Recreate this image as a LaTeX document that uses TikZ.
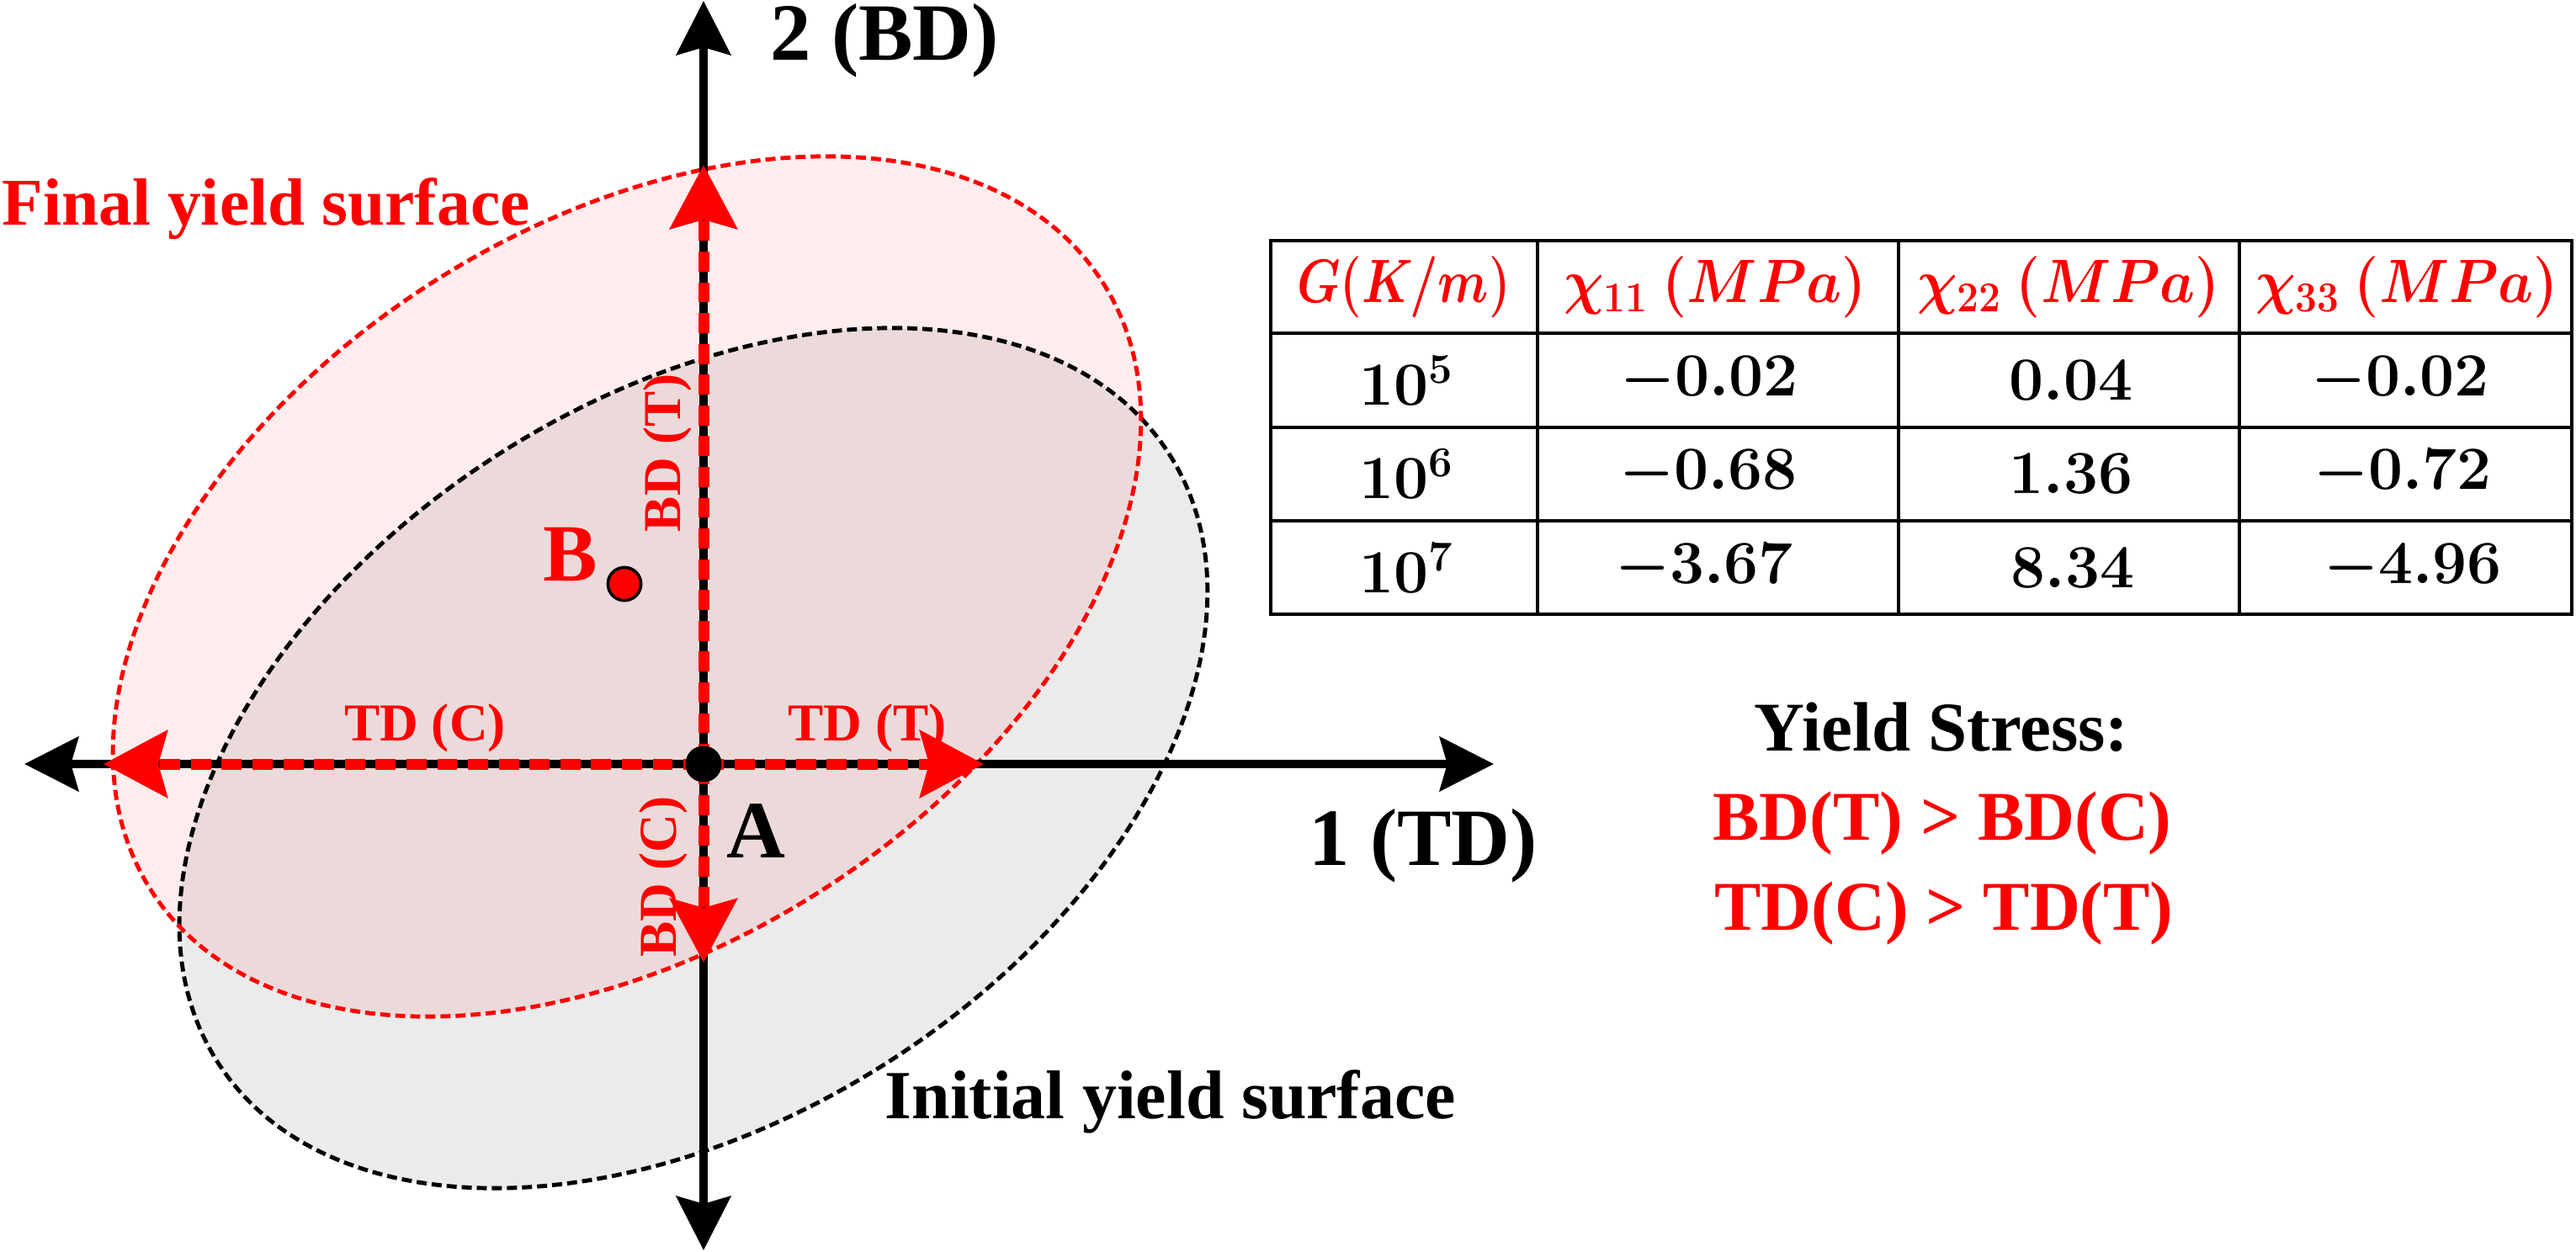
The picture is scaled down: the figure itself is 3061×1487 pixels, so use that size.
\documentclass[tikz,border=0pt]{standalone}
\usepackage[no-math]{fontspec}
\setmainfont{Liberation Serif}
\usetikzlibrary{arrows.meta}
\tikzset{
  ysurf/.style={line width=1.4pt, dash pattern=on 3.4pt off 1.7pt},
  axisline/.style={line width=3pt, black, {Stealth[length=18.2pt,width=18.2pt,inset=2.5pt]}-{Stealth[length=18.2pt,width=18.2pt,inset=2.5pt]}},
  redarrow/.style={line width=3.7pt, red, dash pattern=on 6.8pt off 3.6pt, -{Stealth[length=21.5pt,width=22.5pt,inset=3pt]}},
  biglbl/.style={inner sep=0pt, font=\fontsize{27.5}{30}\selectfont\bfseries},
  surflbl/.style={inner sep=0pt, font=\fontsize{22.6}{26}\selectfont\bfseries},
  dirlbl/.style={inner sep=0pt, text=red, font=\fontsize{18}{20}\selectfont\bfseries},
  yslbl/.style={inner sep=0pt, font=\fontsize{23.6}{26}\selectfont\bfseries},
  hdr/.style={inner sep=0pt, text=red, font=\fontsize{21}{24}\selectfont\boldmath},
  cell/.style={inner sep=0pt, font=\fontsize{21.5}{24}\selectfont\boldmath},
  tbl/.style={line width=1.3pt, black}
}
\begin{document}
\begin{tikzpicture}[x=0.01cm,y=-0.01cm]
\useasboundingbox (0,0) rectangle (3061,1487);

% yield surfaces
\coordinate (ci) at (824,901);
\coordinate (cf) at (745,697);
\fill[black!8, rotate around={32.6:(ci)}] (ci) ellipse [x radius=671, y radius=429];
\fill[red, opacity=0.07, rotate around={32.6:(cf)}] (cf) ellipse [x radius=671, y radius=429];
\draw[ysurf, black, rotate around={32.6:(ci)}] (ci) ellipse [x radius=671, y radius=429];
\draw[ysurf, red, rotate around={32.6:(cf)}] (cf) ellipse [x radius=671, y radius=429];

% axes
\coordinate (ytop) at (836,1);
\coordinate (ybot) at (836,1486);
\coordinate (xl) at (29,908);
\coordinate (xr) at (1775,908);
\draw[axisline] (ybot) -- (ytop);
\draw[axisline] (xl) -- (xr);

% red arrows
\node[circle, fill=black, inner sep=0pt, minimum size=12.2pt] (A) at (836,908) {};
\coordinate (rt) at (836,196);
\coordinate (rb) at (836,1144);
\coordinate (rl) at (123,908);
\coordinate (rr) at (1169,908);
\draw[redarrow] (A.center) -- (rt);
\draw[redarrow] (A.center) -- (rb);
\draw[redarrow] (A.center) -- (rl);
\draw[redarrow] (A.center) -- (rr);
\node[circle, fill=black, inner sep=0pt, minimum size=12.2pt] (Adot) at (836,908) {};

% point B
\node[circle, fill=red, draw=black, line width=1pt, inner sep=0pt, minimum size=11.2pt] (Bdot) at (742,694) {};

% labels
\node[biglbl, anchor=base west] (lbd) at (915,71) {2 (BD)};
\node[biglbl, anchor=base west] (ltd) at (1555,1028) {1 (TD)};
\node[biglbl, anchor=base west] (lA) at (863,1019) {A};
\node[biglbl, anchor=base west, text=red] (lB) at (645,690) {B};
\node[surflbl, anchor=base west, text=red] (lfin) at (2,267) {Final yield surface};
\node[surflbl, anchor=base west, font=\fontsize{23.3}{26}\selectfont\bfseries] (lini) at (1051,1329) {Initial yield surface};
\node[dirlbl, anchor=base] (ltdc) at (505,880) {TD (C)};
\node[dirlbl, anchor=base west] (ltdt) at (936,880) {TD (T)};
\node[dirlbl, anchor=base, rotate=90] (lbdt) at (808,538) {BD (T)};
\node[dirlbl, anchor=base, rotate=90] (lbdc) at (803,1042) {BD (C)};

% yield stress text
\node[yslbl, anchor=base] (ys1) at (2307,892) {Yield Stress:};
\node[yslbl, anchor=base, text=red] (ys2) at (2308,998) {BD(T) > BD(C)};
\node[yslbl, anchor=base, text=red] (ys3) at (2310,1105) {TD(C) > TD(T)};

% table
\draw[tbl] (1510,286) rectangle (3056,730);
\draw[tbl] (1510,396) -- (3056,396);
\draw[tbl] (1510,508) -- (3056,508);
\draw[tbl] (1510,619) -- (3056,619);
\draw[tbl] (1827,286) -- (1827,730);
\draw[tbl] (2256,286) -- (2256,730);
\draw[tbl] (2661,286) -- (2661,730);

\node[hdr] (h1) at (1668,341) {\scalebox{0.8}[1]{$G(K/m)$}};
\node[hdr] (h2) at (2038,341) {\scalebox{0.91}[1]{$\chi_{11}\ (MPa)$}};
\node[hdr] (h3) at (2458,341) {\scalebox{0.91}[1]{$\chi_{22}\ (MPa)$}};
\node[hdr] (h4) at (2860,341) {\scalebox{0.91}[1]{$\chi_{33}\ (MPa)$}};

\node[cell] (a1) at (1672,452) {$10^{5}$};
\node[cell] (b1) at (2031,452) {$-0.02$};
\node[cell] (c1) at (2461,452) {$0.04$};
\node[cell] (d1) at (2852,452) {$-0.02$};

\node[cell] (a2) at (1672,563) {$10^{6}$};
\node[cell] (b2) at (2030,563) {$-0.68$};
\node[cell] (c2) at (2461,563) {$1.36$};
\node[cell] (d2) at (2855,563) {$-0.72$};

\node[cell] (a3) at (1672,675) {$10^{7}$};
\node[cell] (b3) at (2025,675) {$-3.67$};
\node[cell] (c3) at (2463,675) {$8.34$};
\node[cell] (d3) at (2867,675) {$-4.96$};
\end{tikzpicture}
\end{document}
